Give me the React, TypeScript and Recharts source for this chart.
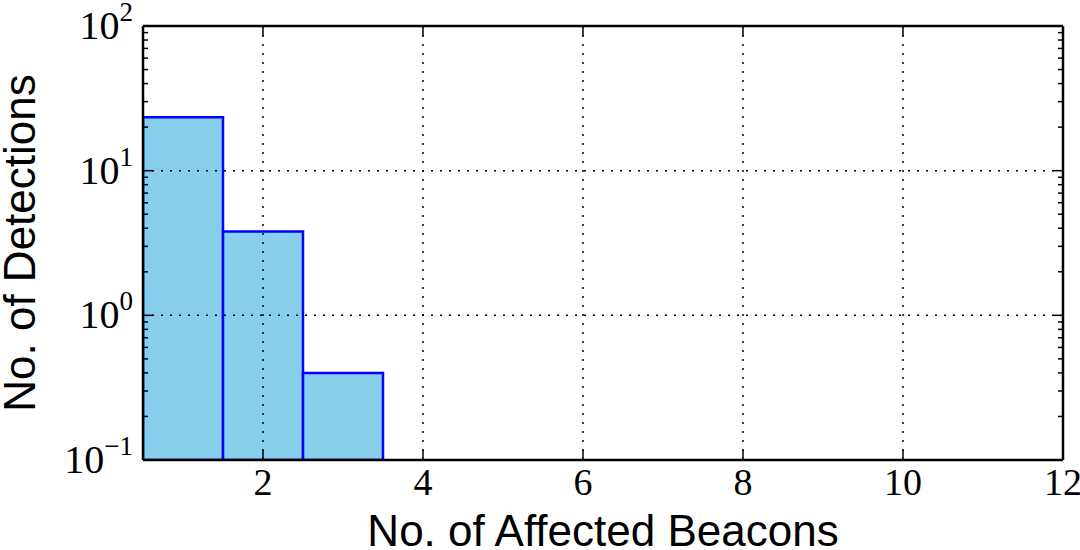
import { BarChart, Bar, XAxis, YAxis, ReferenceLine } from "recharts";

// histogram bins (centres) and counts, log y axis
const beacons = [1, 2, 3];
const detections = [23.4, 3.8, 0.4];

const xTicks = [2, 4, 6, 8, 10, 12];
const xGrid = [2, 4, 6, 8, 10];
const yMajor = [0.1, 1, 10, 100];
const yMinor = [
  0.2, 0.3, 0.4, 0.5, 0.6, 0.7, 0.8, 0.9,
  2, 3, 4, 5, 6, 7, 8, 9,
  20, 30, 40, 50, 60, 70, 80, 90,
];
const yGrid = [1, 10];
const yExponents: Record<string, string> = { "0.1": "−1", "1": "0", "10": "1", "100": "2" };

const data = beacons.map((b, i) => ({ beacons: b, detections: detections[i] }));
const yTicks = [...yMajor, ...yMinor];

const SERIF = "'Liberation Serif', 'Times New Roman', serif";
const SANS = "'Liberation Sans', Arial, sans-serif";

function LeftTick({ x, y, payload }: any) {
  const major = yMajor.includes(payload.value);
  return (
    <g>
      <line x1={x} x2={x + (major ? 10 : 5)} y1={y} y2={y} stroke="#000" strokeWidth={1.5} />
      {major && (
        <text x={x - 10} y={y + 13} textAnchor="end" fontFamily={SERIF} fontSize={40} fill="#000">
          10
          <tspan dy={-18} fontSize={27}>
            {yExponents[String(payload.value)]}
          </tspan>
        </text>
      )}
    </g>
  );
}

function RightTick({ x, y, payload }: any) {
  const major = yMajor.includes(payload.value);
  return <line x1={x} x2={x - (major ? 10 : 5)} y1={y} y2={y} stroke="#000" strokeWidth={1.5} />;
}

function BottomTick({ x, y, payload }: any) {
  return (
    <g>
      <line x1={x} x2={x} y1={y} y2={y - 10} stroke="#000" strokeWidth={1.5} />
      <text x={x} y={y + 35} textAnchor="middle" fontFamily={SERIF} fontSize={38} fill="#000">
        {payload.value}
      </text>
    </g>
  );
}

function TopTick({ x, y }: any) {
  return <line x1={x} x2={x} y1={y} y2={y + 10} stroke="#000" strokeWidth={1.5} />;
}

function XLabel({ viewBox }: any) {
  const { x, y, width } = viewBox;
  return (
    <text x={x + width / 2} y={y + 86} textAnchor="middle" fontFamily={SANS} fontSize={44} fill="#000">
      No. of Affected Beacons
    </text>
  );
}

function YLabel({ viewBox }: any) {
  const { y, height } = viewBox;
  const cx = 35;
  const cy = y + height / 2;
  return (
    <text
      x={cx}
      y={cy}
      transform={`rotate(-90, ${cx}, ${cy})`}
      textAnchor="middle"
      fontFamily={SANS}
      fontSize={44}
      fill="#000"
    >
      No. of Detections
    </text>
  );
}

const axisLine = { stroke: "#000", strokeWidth: 2.5 };

export default function App() {
  return (
    <div style={{ position: "absolute", left: 0, top: 0, background: "#fff" }}>
      <BarChart
        width={1080}
        height={550}
        data={data}
        margin={{ top: 25, right: 16, bottom: 0, left: 0 }}
        barCategoryGap={0}
        barGap={0}
      >
        <XAxis
          dataKey="beacons"
          type="number"
          domain={[0.5, 12]}
          allowDataOverflow
          ticks={xTicks}
          interval={0}
          height={90}
          tickSize={0}
          tickMargin={0}
          tick={<BottomTick />}
          axisLine={axisLine}
          label={<XLabel />}
        />
        <XAxis
          xAxisId="top"
          orientation="top"
          dataKey="beacons"
          type="number"
          domain={[0.5, 12]}
          allowDataOverflow
          ticks={xTicks}
          interval={0}
          height={1}
          tickSize={0}
          tickMargin={0}
          tick={<TopTick />}
          axisLine={axisLine}
        />
        <YAxis
          scale="log"
          type="number"
          domain={[0.1, 100]}
          allowDataOverflow
          ticks={yTicks}
          interval={0}
          width={143}
          tickSize={0}
          tickMargin={0}
          tick={<LeftTick />}
          axisLine={axisLine}
          label={<YLabel />}
        />
        <YAxis
          yAxisId="right"
          orientation="right"
          scale="log"
          type="number"
          domain={[0.1, 100]}
          allowDataOverflow
          ticks={yTicks}
          interval={0}
          width={1}
          tickSize={0}
          tickMargin={0}
          tick={<RightTick />}
          axisLine={axisLine}
        />
        <Bar
          dataKey="detections"
          fill="#87CEEB"
          stroke="#0000FF"
          strokeWidth={2.5}
          isAnimationActive={false}
        />
        {xGrid.map((v) => (
          <ReferenceLine key={`x${v}`} x={v} stroke="#000" strokeWidth={1.5} strokeDasharray="2 7" />
        ))}
        {yGrid.map((v) => (
          <ReferenceLine key={`y${v}`} y={v} stroke="#000" strokeWidth={1.5} strokeDasharray="2 7" />
        ))}
      </BarChart>
    </div>
  );
}
